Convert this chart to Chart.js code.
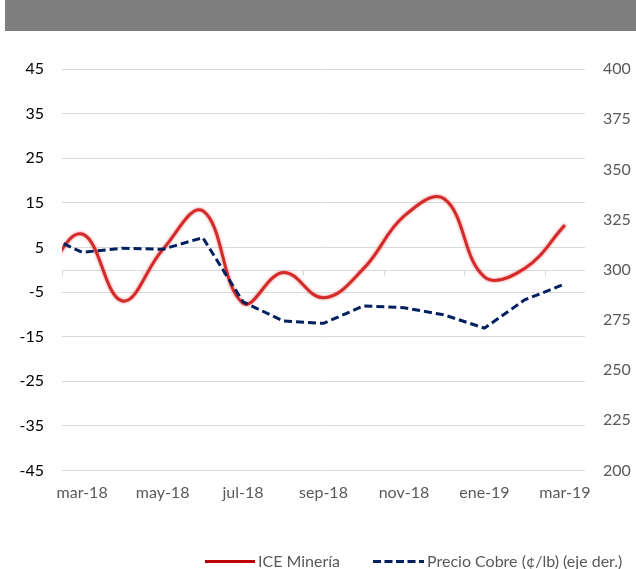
<!DOCTYPE html>
<html><head><meta charset="utf-8">
<script src="https://cdn.jsdelivr.net/npm/chart.js@4.4.1/dist/chart.umd.min.js"></script>
<style>
html,body{margin:0;padding:0;background:#fff;}
#wrap{position:relative;width:636px;height:569px;overflow:hidden;font-family:Lato,sans-serif;}
#hdr{position:absolute;left:5px;top:0;width:631px;height:31px;background:#7f7f7f;}
canvas{position:absolute;left:0;top:0;}
.lg{position:absolute;top:552px;height:18px;font-size:16px;color:#595959;line-height:18px;white-space:nowrap;font-family:Lato,sans-serif;}
</style></head>
<body><div id="wrap"><div id="hdr"></div><canvas id="c" width="636" height="569"></canvas>
<svg width="636" height="569" style="position:absolute;left:0;top:0;pointer-events:none">
<line x1="205" y1="561.5" x2="255" y2="561.5" stroke="#C00000" stroke-width="3"/>
<line x1="373" y1="561.5" x2="424" y2="561.5" stroke="#002060" stroke-width="3" stroke-dasharray="8 3.5"/>
</svg>
<span class="lg" style="left:258px">ICE Minería</span>
<span class="lg" style="left:427px">Precio Cobre (¢/lb) (eje der.)</span>
</div>
<script>
const months = ['feb-18','mar-18','abr-18','may-18','jun-18','jul-18','ago-18','sep-18','oct-18','nov-18','dic-18','ene-19','feb-19','mar-19'];
const iceMineria = [-2, 8, -7, 4.5, 13.2, -7.5, -0.6, -6.3, 0.3, 12, 15.9, -1.6, 0.3, 10];
const precioCobre = [318, 308.7, 310.7, 310.2, 316, 284, 274.5, 273.3, 282, 281.1, 277.5, 270.9, 285, 292.9];
const leftTicks = [-45, -35, -25, -15, -5, 5, 15, 25, 35, 45];
const rightTicks = [200, 225, 250, 275, 300, 325, 350, 375, 400];
const labelMonths = [1, 3, 5, 7, 9, 11, 13];
const axisTickMonths = [0.5, 2.5, 4.5, 6.5, 8.5, 10.5, 12.5];

const toPts = arr => arr.map((v, i) => ({x: i, y: v}));

const zeroAxis = {
  id: 'zeroAxis',
  beforeDatasetsDraw(chart) {
    const {ctx, chartArea: a, scales: {x, y}} = chart;
    const yy = Math.round(y.getPixelForValue(0)) + 0.5;
    ctx.save();
    ctx.strokeStyle = '#d9d9d9';
    ctx.lineWidth = 1;
    ctx.beginPath();
    ctx.moveTo(a.left, yy); ctx.lineTo(a.right, yy);
    axisTickMonths.forEach(v => {
      const xx = Math.round(x.getPixelForValue(v)) + 0.5;
      ctx.moveTo(xx, yy); ctx.lineTo(xx, yy + 5);
    });
    ctx.stroke();
    ctx.restore();
  }
};
const glow = {
  id: 'glow',
  beforeDatasetDraw(chart, args) {
    if (args.index === 0) { const c = chart.ctx; c.save(); c.shadowColor = 'rgba(225,80,80,0.75)'; c.shadowBlur = 3; }
  },
  afterDatasetDraw(chart, args) {
    if (args.index === 0) chart.ctx.restore();
  }
};

new Chart(document.getElementById('c'), {
  type: 'line',
  data: {
    datasets: [
      {label: 'ICE Minería', data: toPts(iceMineria), yAxisID: 'y', borderColor: '#d42a2a', borderWidth: 3, tension: 0.4, pointRadius: 0, order: 1},
      {label: 'Precio Cobre (¢/lb) (eje der.)', data: toPts(precioCobre), yAxisID: 'y1', borderColor: '#002060', borderWidth: 3, borderDash: [8, 4], tension: 0, pointRadius: 0, order: 0}
    ]
  },
  options: {
    responsive: false,
    animation: false,
    layout: {padding: {left: 0, right: 0, top: 69, bottom: 58.5}},
    plugins: {legend: {display: false}, tooltip: {enabled: false}},
    scales: {
      x: {
        type: 'linear', min: 0.5, max: 13.5,
        afterBuildTicks: s => { s.ticks = labelMonths.map(v => ({value: v})); },
        afterFit: s => { s.height = 40; },
        ticks: {callback: v => months[v], color: '#595959', font: {family: 'Lato', size: 16}, padding: 13, maxRotation: 0, autoSkip: false},
        grid: {display: false, drawTicks: false},
        border: {display: false}
      },
      y: {
        position: 'left', min: -45, max: 45,
        afterBuildTicks: s => { s.ticks = leftTicks.map(v => ({value: v})); },
        afterFit: s => { s.width = 62; },
        ticks: {color: '#000000', font: {family: 'Lato', size: 16}, padding: 18},
        grid: {color: '#d9d9d9', lineWidth: 1, drawTicks: false},
        border: {display: false}
      },
      y1: {
        position: 'right', min: 200, max: 400,
        afterBuildTicks: s => { s.ticks = rightTicks.map(v => ({value: v})); },
        afterFit: s => { s.width = 51; },
        ticks: {color: '#595959', font: {family: 'Lato', size: 16}, padding: 18},
        grid: {drawOnChartArea: false, drawTicks: false},
        border: {display: false}
      }
    }
  },
  plugins: [zeroAxis, glow]
});
</script>
</body></html>
